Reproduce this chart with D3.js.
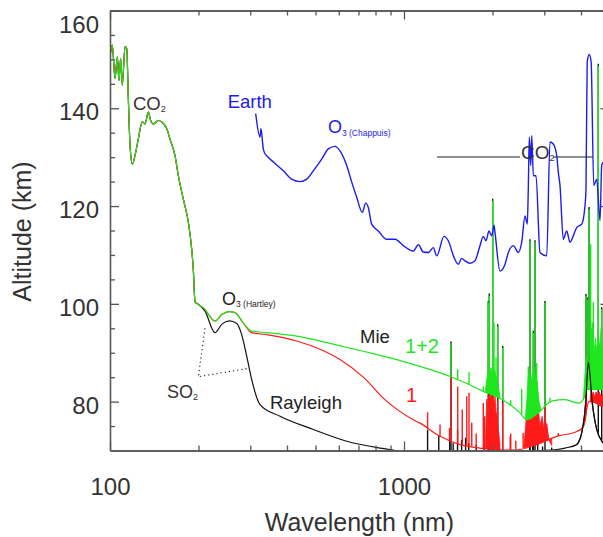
<!DOCTYPE html>
<html>
<head>
<meta charset="utf-8">
<script src="https://cdn.jsdelivr.net/npm/d3@7"></script>
<style>
body{margin:0;background:#fff;}
svg{display:block;font-family:"Liberation Sans",Arial,Helvetica,sans-serif;}
.axis path,.axis line{stroke:#555;stroke-width:1.3;}
</style>
</head>
<body>
<script>
//tick values
var xMajor = [100, 1000],
    xMinor = [200, 300, 400, 500, 600, 700, 800, 900, 2000, 3000, 4000],
    yMajor = [80, 100, 120, 140, 160],
    yMinor = [75, 85, 90, 95, 105, 110, 115, 125, 130, 135, 145, 150, 155];

//UV part shared by all three curves [wavelength nm, altitude km]
var uvShared = [[100,150.5],[101.8,152.9],[104,146.1],[105.9,150.5],[107.3,145.7],[108.7,150.2],[110.1,144.7],
    [112.5,152.6],[114,152.2],[115.4,142.3],[117,132.4],[119.1,128.6],[122.3,131],[124.8,133.7],[128.8,137.2],
    [131.5,136.8],[135,139.2],[137.5,137.5],[140.4,136.8],[146,137.5],[149.9,137.2],[156,135.8],[160,133.7],
    [166.4,130.3],[170.8,126.2],[177.6,121.4],[184.7,116.7],[189.6,111.2],[192,107.1],[194.6,100.4],[199.7,99.9]];

//Rayleigh only (black)
var rayleighTail = [[210.4,98.5],[227.6,94.1],[239.9,95.8],[254.5,96.5],[269.8,96],[280.5,93.7],[291.7,89.3],
    [303.4,84.5],[323.7,79.4],[378.7,77],[491.4,74.3],[638.5,71.9],[828.7,70.5],[917.6,70.1],[1000,69.6],
    [2600,69.6],[2863,69.9],[3307,70.2],[3528,70.5],[3868,71.2],[4022,73.6],[4150,79.7],[4236,88],
    [4370,79.7],[4523,74.3],[4753,71.6],[5000,70.5]];
var rayleighSpikes = [[1203,74.3],[1313,73],[1430,72.6],[1470,71.5],[1521,74.3],[1570,72.2],[1620,72.6],
    [1660,71.5],[1760,71.2],[1871,71.8],[1960,71.5],[2010,71.3],[2100,71],[2680,71.2],[2740,71.6],[2850,71.3],
    [2960,70.8],[3180,70.6],[1445,92.3],[1935,100.6],[1950,102.1],[2003,121.5],[2083,95.8],[2166,91.4],
    [2683,113.2],[2754,94.5],[2790,113],[3017,100.6],[4159,102],[4220,101.3],[4260,119.8],[4580,149.1],[4704,99.3]];

//Mie case 1 (red)
var mie1Tail = [[207.6,99.2],[227.6,96.5],[239.9,97.8],[254.5,98.4],[266.1,98.2],[284,96.1],[303.4,94.1],
    [341.2,93.7],[431.5,92.4],[518,90.7],[605.8,88.6],[727,85],[861,80.4],[1075,76.3],[1133,75.6],[1326,72.9],
    [1550,71.2],[1813,70.5],[2121,70.1],[2386,70.1],[2828,71.2],[3307,72.9],[3868,73.9],[4022,74.5],[4127,76],
    [4183,78.5],[4260,80],[4370,80],[4753,79],[5000,79]];
var mie1Spikes = [[1203,77.8],[1326,75.3],[1428,74.6],[1445,84.9],[1523,83.1],[1578,78.4],[1635,81.1],
    [1664,81.8],[1700,75.7],[1760,73.5],[1861,79.7],[1880,77],[2003,81],[2083,80.5],[2166,79.8],[2297,72.9],
    [2307,73.5],[2400,72],[2543,73.6],[3017,79.3],[3030,76],[3060,75.5],[3349,73.6]];
var mie1BandA = [[1895,72],[1910,80.5],[1925,79],[1935,81.4],[1948,80],[1960,81.8],[1972,80.5],[1986,81.8],
    [2000,80],[2015,81],[2030,79.5],[2040,81.1],[2055,78],[2075,77],[2095,74],[2120,71.5]];
var mie1BandB = [[2560,71],[2600,76],[2630,80],[2660,83],[2690,82.5],[2720,78],[2750,84.5],[2780,80],
    [2820,77],[2860,79],[2900,75],[2950,77],[3000,74],[3060,75],[3120,72],[3180,71]];
var mie1BandC = [[4090,75],[4140,80],[4165,82.5],[4180,82]];
var mie1BandD = [[4300,81],[4330,82],[4370,81.5],[4400,82],[4450,81],[4500,82],[4560,81.5],[4620,82],
    [4680,81],[4753,81.5],[5000,81]];

//Mie case 1+2 (green)
var mie12Tail = [[207.6,99.2],[227.6,96.5],[239.9,97.8],[254.5,98.4],[266.1,98.2],[284,96.1],[303.4,94.4],
    [341.2,94.1],[431.5,93.4],[560,91.9],[727,90.3],[945,88.6],[1133,87.2],[1430,85.2],[1664,83.5],[1861,82.1],
    [2050,81.1],[2290,79.4],[2480,77.7],[2615,76.3],[2863,77.7],[3180,80.1],[3528,80.4],[3918,79.7],[4073,80.4],
    [4180,82.5],[5000,82.5]];
var mie12Spikes = [[1445,91.9],[1523,86.6],[1664,86],[1861,83.1],[1935,100.2],[1950,101.7],[2003,121.1],
    [2024,96.2],[2056,89],[2083,95.4],[2166,91],[2307,80.3],[2514,82.6],[2647,87.2],[2683,112.8],[2754,94.1],
    [2790,112.6],[2828,87.9],[3017,100.2],[3137,80.8],[4159,101.6],[4220,100.9],[4260,119.4],[4315,112.2],
    [4370,96.2],[4405,100.3],[4580,148.7],[4704,98.9]];
var mie12BandA = [[1890,82],[1910,84.5],[1930,86],[1950,85],[1975,87],[2000,86],[2030,86.5],[2060,85],
    [2090,83.5],[2120,81]];
var mie12BandB = [[2590,77],[2620,81],[2645,85],[2670,86],[2700,84],[2730,85.5],[2760,87],[2800,85],
    [2840,84],[2880,80],[2920,78.5]];
var mie12BandC = [[4073,80.5],[4110,84],[4150,88],[4170,89],[4180,86]];
var mie12BandD = [[4300,86],[4320,95],[4345,95],[4380,92],[4430,90],[4480,93],[4530,90],[4580,94],
    [4630,91],[4680,95],[4720,91],[4760,89],[5000,89]];

//Earth (blue)
var earth = [[313,138.9],[323.7,134.1],[326.2,135.8],[332.2,131.7],[336.7,130.7],[341.2,130.3],[359.3,129],
    [388.7,127.2],[415,125.5],[443,125],[466.7,125.5],[491.4,127.2],[524.9,129.6],[552.8,131.7],[582.6,132.2],
    [605.8,131.3],[638.5,128.3],[664,124.9],[690.5,121.8],[721.4,118.7],[740.8,120.6],[756.1,119.7],
    [776.5,116.3],[817.8,114.9],[873.5,113.2],[932.1,113.2],[994.5,111.9],[1075.5,110.8],[1118.6,112.1],
    [1163.2,110.6],[1209.8,110.5],[1258.1,111.5],[1291.8,109.8],[1368.3,113.8],[1414.8,112.9],[1479.2,109.5],
    [1529.8,108.1],[1571.1,109.3],[1612.2,108.8],[1676.6,108.3],[1743.6,108.8],[1813.3,111.9],[1861,113.8],
    [1900.7,112.9],[1945.9,114.9],[1987.5,113.9],[2024,116.1],[2039.4,114.6],[2121,106.7],[2206.6,108.1],
    [2264.7,110.5],[2355,111.9],[2449,110.5],[2514,112.6],[2580,118],[2627,116.3],[2647,123.5],[2668,134.1],
    [2698,128.3],[2719,134.4],[2754,126.2],[2812,126.2],[2901,110.5],[3058,109.8],[3137,133.1],[3219,132.7],
    [3307,130.3],[3349,126.9],[3393,124.2],[3482,113.2],[3576,114.9],[3669,112.6],[3765,113.9],[3868,115.6],
    [4022,116.3],[4127,120.1],[4159,123.5],[4199,149.5],[4266,151],[4330,149.5],[4420,124.2],[4523,125.5],
    [4642,117],[4704,128.3],[4753,129]];

var width = 603, height = 537;

var svg = d3.select("body").append("svg")
    .attr("width", width)
    .attr("height", height);

var x = d3.scaleLog().domain([100, 5000]).range([110, 609.5]);
var y = d3.scaleLinear().domain([70, 160]).range([450.5, 10.5]);

svg.append("clipPath").attr("id", "plotClip")
    .append("rect")
    .attr("x", x(100)).attr("y", y(160))
    .attr("width", x(5000) - x(100)).attr("height", y(70) - y(160));

var plot = svg.append("g").attr("clip-path", "url(#plotClip)");

var line = d3.line().x(function(d){ return x(d[0]); }).y(function(d){ return y(d[1]); });
var smooth = d3.line().curve(d3.curveMonotoneX)
    .x(function(d){ return x(d[0]); }).y(function(d){ return y(d[1]); });

//baseline value of a curve at wavelength w (log interpolation between read points)
function baseAt(s, w){
    for (var i = 0; i < s.length - 1; i++){
        if (w >= s[i][0] && w <= s[i + 1][0]){
            var t = (Math.log(w) - Math.log(s[i][0])) / (Math.log(s[i + 1][0]) - Math.log(s[i][0]));
            return s[i][1] + t * (s[i + 1][1] - s[i][1]);
        }
    }
    return s[s.length - 1][1];
}

function drawCurve(series, spikes, bands, color){
    plot.append("path").datum(series)
        .attr("d", smooth).attr("fill", "none")
        .attr("stroke", color).attr("stroke-width", 1.2);
    plot.selectAll(null).data(spikes).enter().append("line")
        .attr("x1", function(d){ return x(d[0]); })
        .attr("x2", function(d){ return x(d[0]); })
        .attr("y1", function(d){ return y(baseAt(series, d[0])); })
        .attr("y2", function(d){ return y(d[1]); })
        .attr("stroke", color).attr("stroke-width", 1.4);
    bands.forEach(function(b){
        var area = d3.area()
            .x(function(d){ return x(d[0]); })
            .y0(function(d){ return y(baseAt(series, d[0])); })
            .y1(function(d){ return y(d[1]); });
        plot.append("path").datum(b).attr("d", area)
            .attr("fill", color).attr("stroke", color).attr("stroke-width", 0.8);
    });
}

var black = uvShared.concat(rayleighTail),
    red = uvShared.concat(mie1Tail),
    green = uvShared.concat(mie12Tail);

drawCurve(black, rayleighSpikes, [], "#111");
drawCurve(red, mie1Spikes, [mie1BandA, mie1BandB, mie1BandC, mie1BandD], "#ff1a1a");
drawCurve(green, mie12Spikes, [mie12BandA, mie12BandB, mie12BandC, mie12BandD], "#1ee61e");

//black CO2 4.3 micron peak sits on top
plot.append("path").datum(black.filter(function(d){ return d[0] >= 3868; }))
    .attr("d", smooth).attr("fill", "none").attr("stroke", "#111").attr("stroke-width", 1.2);

plot.append("path").datum(earth)
    .attr("d", smooth).attr("fill", "none")
    .attr("stroke", "#1c1cf0").attr("stroke-width", 1.4);

//annotations
function label(main, sub, w, a, color, size, subSize, subDy){
    var t = svg.append("text").attr("x", x(w)).attr("y", y(a))
        .attr("fill", color).style("font-size", size + "px");
    t.append("tspan").text(main);
    if (sub) t.append("tspan").attr("dy", subDy).style("font-size", subSize + "px").text(sub);
}
label("CO", "2", 119.7, 139.65, "#333", 18.5, 9, 2);
label("Earth", null, 251.3, 140.05, "#1c1cf0", 18.5);
label("O", "3 (Chappuis)", 551, 134.94, "#1c1cf0", 18, 8.5, 3);
label("O", "3 (Hartley)", 240.4, 99.76, "#222", 18, 8.5, 2);
label("SO", "2", 156.3, 80.74, "#333", 18, 9, 2);
label("Rayleigh", null, 350, 78.5, "#222", 18.5);
label("Mie", null, 708.6, 92.0, "#222", 18.5);
label("1+2", null, 1008, 89.9, "#1ee61e", 20);
label("1", null, 1016, 79.9, "#ff1a1a", 20);

//CO2 band marker line, broken round the label
[[1295, 2481], [3213, 4395]].forEach(function(seg){
    svg.append("line")
        .attr("x1", x(seg[0])).attr("x2", x(seg[1]))
        .attr("y1", y(130.03)).attr("y2", y(130.03))
        .attr("stroke", "#222").attr("stroke-width", 1.2);
});
label("CO", "2", 2500, 129.6, "#333", 19, 9, 2);

//dotted pointers for SO2
var so2Pointer = [[210.4, 95.0], [199.7, 85.1], [295.4, 86.8]];
svg.append("path").datum(so2Pointer)
    .attr("d", line).attr("fill", "none")
    .attr("stroke", "#222").attr("stroke-width", 1.1).attr("stroke-dasharray", "1.2,3");

//axes
function styleAxis(g){
    g.selectAll("text").style("font-size", "24px").style("fill", "#333")
        .style("font-family", "'Liberation Sans',Arial,sans-serif");
}
var fmt = d3.format("d");

svg.append("g").attr("class", "axis").attr("transform", "translate(0," + y(70) + ")")
    .call(d3.axisBottom(x).tickValues(xMinor).tickSize(-5).tickSizeOuter(0).tickFormat(""));
var gB = svg.append("g").attr("class", "axis").attr("transform", "translate(0," + y(70) + ")")
    .call(d3.axisBottom(x).tickValues(xMajor).tickSize(-9).tickSizeOuter(0).tickPadding(27.5).tickFormat(fmt));
styleAxis(gB);

svg.append("g").attr("class", "axis").attr("transform", "translate(0," + y(160) + ")")
    .call(d3.axisTop(x).tickValues(xMinor).tickSize(-5).tickSizeOuter(0).tickFormat(""));
svg.append("g").attr("class", "axis").attr("transform", "translate(0," + y(160) + ")")
    .call(d3.axisTop(x).tickValues(xMajor).tickSize(-9).tickSizeOuter(0).tickFormat(""));

svg.append("g").attr("class", "axis").attr("transform", "translate(" + x(100) + ",0)")
    .call(d3.axisLeft(y).tickValues(yMinor).tickSize(-5).tickSizeOuter(0).tickFormat(""));
var gL = svg.append("g").attr("class", "axis").attr("transform", "translate(" + x(100) + ",0)")
    .call(d3.axisLeft(y).tickValues(yMajor).tickSize(-9).tickSizeOuter(0).tickPadding(11).tickFormat(fmt));
styleAxis(gL);
gL.selectAll("text").attr("dy", function(d){ return d === 160 ? "0.9em" : "0.48em"; });

svg.append("g").attr("class", "axis").attr("transform", "translate(" + x(5000) + ",0)")
    .call(d3.axisRight(y).tickValues(yMinor).tickSize(-5).tickSizeOuter(0).tickFormat(""));
svg.append("g").attr("class", "axis").attr("transform", "translate(" + x(5000) + ",0)")
    .call(d3.axisRight(y).tickValues(yMajor).tickSize(-9).tickSizeOuter(0).tickFormat(""));

//axis titles
svg.append("text").attr("x", 359.5).attr("y", 531)
    .attr("text-anchor", "middle").attr("fill", "#333").style("font-size", "25px")
    .text("Wavelength (nm)");
svg.append("text").attr("transform", "translate(31,231.5) rotate(-90)")
    .attr("text-anchor", "middle").attr("fill", "#333").style("font-size", "25px")
    .text("Altitude (km)");
</script>
</body>
</html>
